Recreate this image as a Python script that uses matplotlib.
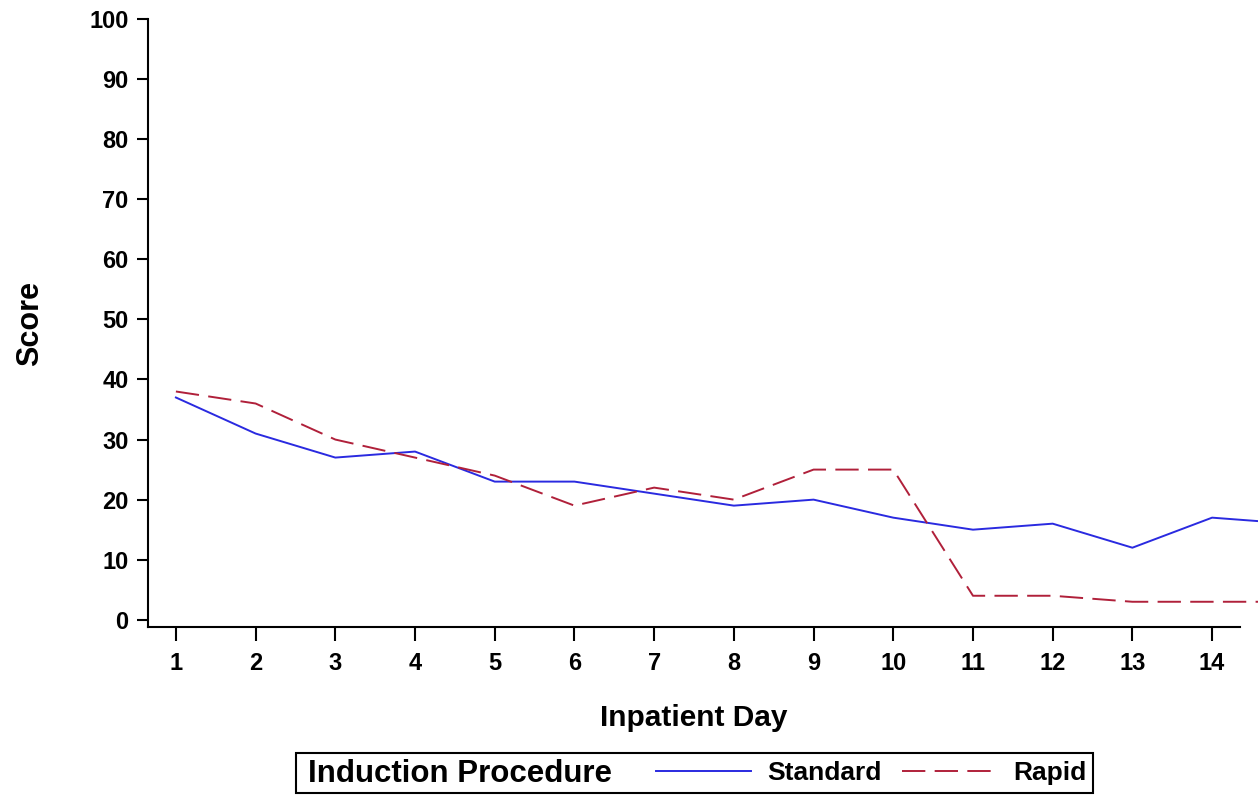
import matplotlib.pyplot as plt
import matplotlib.patches as mpatches
import numpy as np

# datos
days = [1, 2, 3, 4, 5, 6, 7, 8, 9, 10, 11, 12, 13, 14, 15]
standard = [37, 31, 27, 28, 23, 23, 21, 19, 20, 17, 15, 16, 12, 17, 16]
rapid = [38, 36, 30, 27, 24, 19, 22, 20, 25, 25, 4, 4, 3, 3, 3]
x_ticks = list(range(1, 15))
y_ticks = list(range(0, 101, 10))

plt.rcParams['font.family'] = ['Liberation Sans', 'DejaVu Sans']
plt.rcParams['font.weight'] = 'bold'

fig = plt.figure(figsize=(12.58, 7.95), dpi=100)
ax = fig.add_axes([148/1258, 1-627/795, (1240-148)/1258, (627-19)/795])

blue = '#2a2ae0'
red = '#b0203a'
l1, = ax.plot(days, standard, color=blue, lw=1.4, clip_on=False, label='Standard')
l2, = ax.plot(days, rapid, color=red, lw=1.4, clip_on=False, dashes=(12, 4.8), label='Rapid')

ax.set_xlim(0.65, 14.35)
ax.set_ylim(-1.2, 100)
ax.set_xticks(x_ticks)
ax.set_yticks(y_ticks)
ax.spines['top'].set_visible(False)
ax.spines['right'].set_visible(False)
for s in ['left', 'bottom']:
    ax.spines[s].set_linewidth(1.5)
ax.tick_params(axis='both', width=1.5, length=8, labelsize=17, direction='out')
ax.tick_params(axis='y', pad=6)
ax.tick_params(axis='x', length=10, pad=8)
for lab in ax.get_xticklabels() + ax.get_yticklabels():
    lab.set_fontweight('bold')

ax.set_xlabel('Inpatient Day', fontsize=21.5, fontweight='bold', labelpad=21)
ax.set_ylabel('Score', fontsize=22, fontweight='bold', labelpad=32)

# caja de leyenda
rect = mpatches.Rectangle((296/1258, 1-793/795), (1093-296)/1258, 40/795,
                          transform=fig.transFigure, fill=False, lw=1.5, ec='black')
fig.patches.append(rect)
fig.text(308/1258, 1-774/795, 'Induction Procedure', fontsize=22.5, fontweight='bold',
         va='center', ha='left')
leg = fig.legend(handles=[l1, l2], loc='center left', bbox_to_anchor=(656/1258, 1-773/795),
                 ncol=2, frameon=False, handlelength=3.6, columnspacing=0.8,
                 handletextpad=0.6, borderpad=0, borderaxespad=0,
                 prop={'weight': 'bold', 'size': 19})

fig.savefig('out.png', dpi=100)
